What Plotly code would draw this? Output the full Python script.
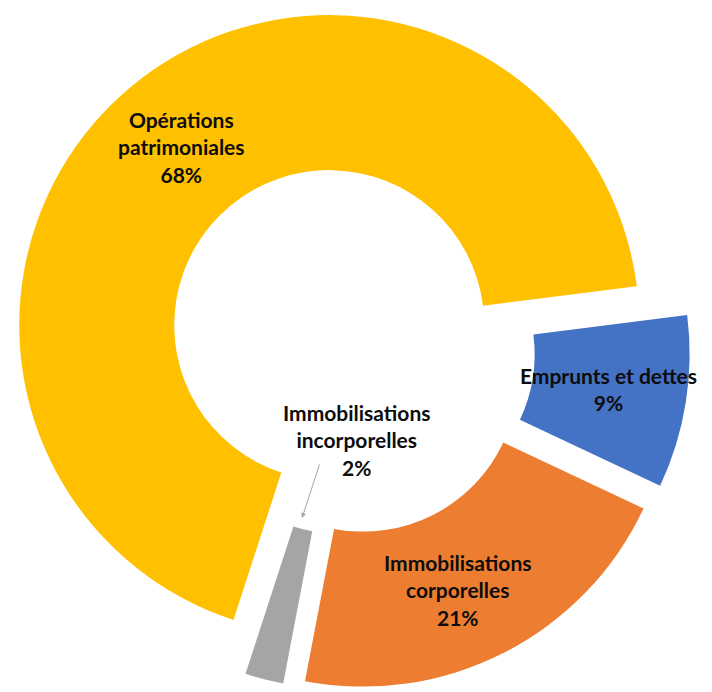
import plotly.graph_objects as go

categories = ["Opérations patrimoniales", "Emprunts et dettes",
              "Immobilisations corporelles", "Immobilisations incorporelles"]
display_labels = ["Opérations<br>patrimoniales", "Emprunts et dettes",
                  "Immobilisations<br>corporelles", "Immobilisations<br>incorporelles"]
values = [68, 9, 21, 2]
colors = ["#FFC000", "#4472C4", "#ED7D31", "#A5A5A5"]

W, H = 712, 692
OFF = 8  # page offset of the figure inside the window

box = 682
fig = go.Figure()
fig.add_trace(go.Pie(
    labels=categories,
    values=values,
    sort=False,
    direction="clockwise",
    rotation=198,
    hole=0.5,
    pull=[0.1, 0.1, 0.1, 0.1],
    marker=dict(colors=colors, line=dict(color="rgba(0,0,0,0)", width=0)),
    textinfo="none",
    hoverinfo="label+percent",
    showlegend=False,
    domain=dict(x=[0.0, box / W], y=[1 - box / H, 1.0]),
))

# label placements (pixel centres in the picture)
label_pos = [(181, 147), (608, 389), (458, 590), (357, 440)]
for lab, v, (px, py) in zip(display_labels, values, label_pos):
    fig.add_annotation(
        x=(px - OFF) / W, y=1 - (py - OFF) / H, xref="paper", yref="paper",
        text=f"<b>{lab}<br>{v}%</b>", showarrow=False,
        xanchor="center", yanchor="middle", align="center",
        font=dict(family="Lato", size=21, color="#0D0D0D"),
    )

# leader arrow for the small slice
fig.add_annotation(
    x=(302 - OFF) / W, y=1 - (518 - OFF) / H, xref="paper", yref="paper",
    ax=18, ay=-55, text="", showarrow=True,
    arrowhead=2, arrowsize=1, arrowwidth=1, arrowcolor="#A5A5A5",
)

fig.update_layout(
    width=W, height=H,
    margin=dict(l=0, r=0, t=0, b=0),
    paper_bgcolor="white", plot_bgcolor="white",
)

fig.write_html("out.html")
